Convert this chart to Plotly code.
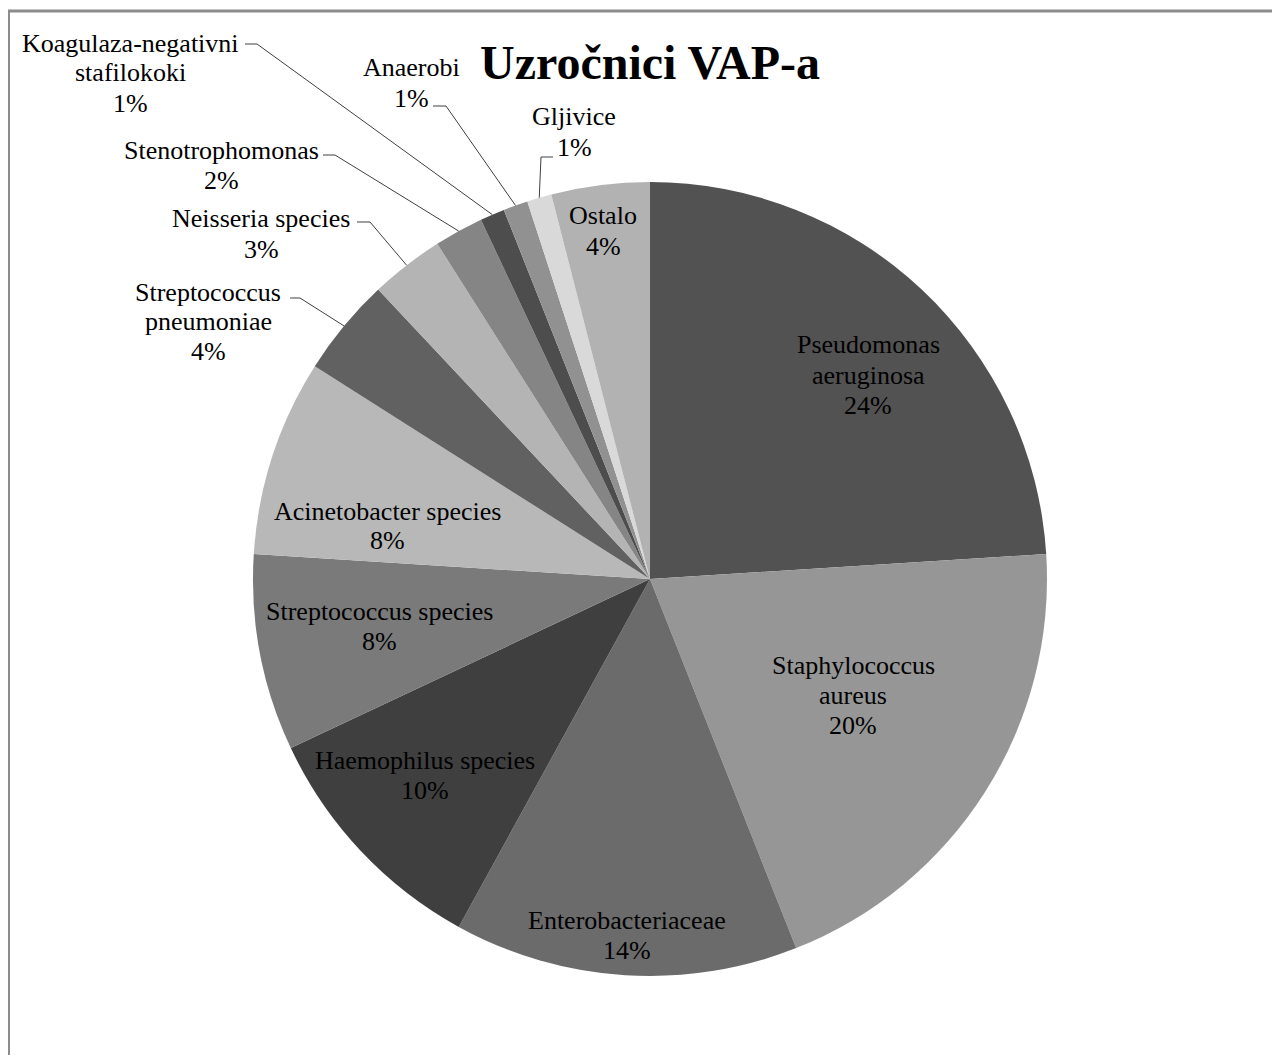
import math
import plotly.graph_objects as go

# ---------------- data ----------------
categories = [
    "Pseudomonas aeruginosa", "Staphylococcus aureus", "Enterobacteriaceae",
    "Haemophilus species", "Streptococcus species", "Acinetobacter species",
    "Streptococcus pneumoniae", "Neisseria species", "Stenotrophomonas",
    "Koagulaza-negativni stafilokoki", "Anaerobi", "Gljivice", "Ostalo",
]
values = [24, 20, 14, 10, 8, 8, 4, 3, 2, 1, 1, 1, 4]
label_lines = [
    ["Pseudomonas", "aeruginosa"], ["Staphylococcus", "aureus"], ["Enterobacteriaceae"],
    ["Haemophilus species"], ["Streptococcus species"], ["Acinetobacter species"],
    ["Streptococcus", "pneumoniae"], ["Neisseria species"], ["Stenotrophomonas"],
    ["Koagulaza-negativni", "stafilokoki"], ["Anaerobi"], ["Gljivice"], ["Ostalo"],
]
title_text = "Uzročnici VAP-a"

# ---------------- style ----------------
colors = ["#525252", "#969696", "#6b6b6b", "#3f3f3f", "#7a7a7a", "#b8b8b8",
          "#616161", "#b4b4b4", "#858585", "#4d4d4d", "#919191", "#d9d9d9", "#b2b2b2"]

W, H = 1264, 1047          # figure size
OX, OY = 8, 8              # page offset of the figure (body margin)
CX, CY, R = 650, 579, 397  # pie centre / radius in page pixels
FONT = "Liberation Serif, Times New Roman, serif"
FS = 26
LINE_GAP = 30

# label centre of first line (page px)
label_pos = [(868, 345), (853, 665), (627, 920), (425, 760), (379, 611), (387, 511),
             (208, 292), (261, 219), (221, 150), (130, 43), (411, 68), (574, 117), (603, 216)]
# leader stubs for outside labels: index -> (start, bend)
leaders = {
    6: ((290, 298), (300, 298)),
    7: ((357, 222), (370, 222)),
    8: ((323, 155), (335, 155)),
    9: ((245, 44), (257, 44)),
    10: ((433, 106), (446, 106)),
    11: ((553, 157), (541, 157)),
}


def fx(px):
    return (px - OX) / W


def fy(py):
    return 1 - (py - OY) / H


fig = go.Figure()
fig.add_trace(go.Pie(
    labels=categories, values=values, sort=False, direction="clockwise", rotation=0,
    marker=dict(colors=colors, line=dict(width=0)),
    textinfo="none", hoverinfo="label+percent", showlegend=False,
    domain=dict(x=[fx(CX - R), fx(CX + R)], y=[fy(CY + R), fy(CY - R)]),
))

total = sum(values)
annotations = []
shapes = []
cum = 0
for i, v in enumerate(values):
    pct = f"{round(v / total * 100)}%"
    lines = label_lines[i] + [pct]
    x0, y0 = label_pos[i]
    for k, t in enumerate(lines):
        annotations.append(dict(
            x=fx(x0), y=fy(y0 + k * LINE_GAP), xref="paper", yref="paper",
            text=t, showarrow=False, xanchor="center", yanchor="middle",
            font=dict(family=FONT, size=FS, color="#000000"),
        ))
    mid = (cum + v / 2) / total * 2 * math.pi
    cum += v
    if i in leaders:
        (sx, sy), (bx, by) = leaders[i]
        ex = CX + R * math.sin(mid)
        ey = CY - R * math.cos(mid)
        path = f"M {fx(sx)} {fy(sy)} L {fx(bx)} {fy(by)} L {fx(ex)} {fy(ey)}"
        shapes.append(dict(type="path", path=path, xref="paper", yref="paper",
                           line=dict(color="#404040", width=1)))

# chart border (only top / left visible)
shapes.append(dict(type="rect", xref="paper", yref="paper",
                   x0=fx(8.5), x1=fx(1400), y0=fy(1200), y1=fy(11),
                   line=dict(color="#8c8c8c", width=3)))

annotations.append(dict(
    x=fx(650), y=fy(62), xref="paper", yref="paper", text=f"<b>{title_text}</b>",
    showarrow=False, xanchor="center", yanchor="middle",
    font=dict(family=FONT, size=48, color="#000000"),
))

fig.update_layout(
    width=W, height=H, margin=dict(l=0, r=0, t=0, b=0),
    paper_bgcolor="white", plot_bgcolor="white",
    annotations=annotations, shapes=shapes, showlegend=False,
)

fig.write_html("out.html")
